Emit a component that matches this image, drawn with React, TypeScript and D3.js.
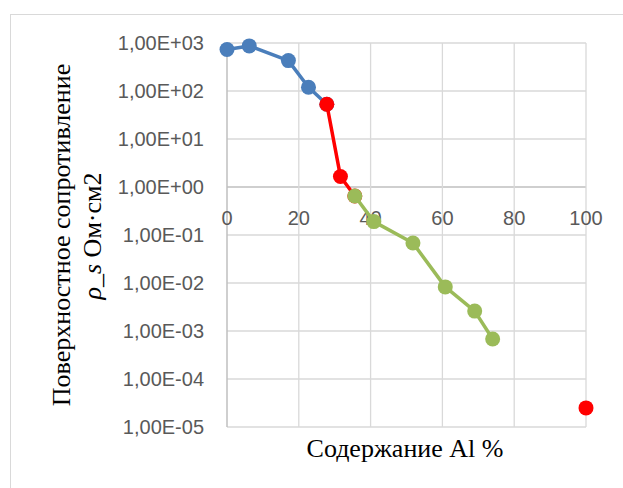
import React from 'react';
import * as d3 from 'd3';

// Al content (%) and surface resistance (Ohm·cm2)
const blueX = [0, 6.2, 17.1, 22.7, 27.8];
const blueY = [730, 870, 430, 120, 53];
const redX = [27.8, 31.6, 35.6];
const redY = [53, 1.66, 0.65];
const redSingleX = [100];
const redSingleY = [2.5e-5];
const greenX = [35.6, 40.9, 51.8, 60.8, 69, 74];
const greenY = [0.65, 0.19, 0.068, 0.0083, 0.0026, 0.00068];

const xTicks = [0, 20, 40, 60, 80, 100];
const yTicks = [1e3, 1e2, 1e1, 1e0, 1e-1, 1e-2, 1e-3, 1e-4, 1e-5];
const yTickLabels = ['1,00E+03', '1,00E+02', '1,00E+01', '1,00E+00', '1,00E-01', '1,00E-02', '1,00E-03', '1,00E-04', '1,00E-05'];

const W = 623;
const H = 488;

const App = () => {
  const x = d3.scaleLinear().domain([0, 100]).range([227, 586]);
  const y = d3.scaleLog().domain([1e-5, 1e3]).range([427, 43]);

  const line = d3.line<[number, number]>()
    .x(d => x(d[0]))
    .y(d => y(d[1]));

  const series = [
    { xs: blueX, ys: blueY, color: '#4a7ebb', line: true },
    { xs: redX, ys: redY, color: '#ff0000', line: true },
    { xs: redSingleX, ys: redSingleY, color: '#ff0000', line: false },
    { xs: greenX, ys: greenY, color: '#9bbb59', line: true },
  ];

  const tickFont = '"Liberation Sans", Arial, sans-serif';
  const titleFont = '"Liberation Serif", "Times New Roman", serif';

  return (
    <svg width={W} height={H} style={{ position: 'absolute', left: 0, top: 0 }}>
      <rect x={0} y={0} width={W} height={H} fill="#fff" />
      <rect x={10.5} y={14.5} width={W + 10} height={H + 10} fill="none" stroke="#d9d9d9" />

      {/* gridlines */}
      {yTicks.map(t => (
        <line key={'gy' + t} x1={x(0)} x2={x(100)} y1={y(t)} y2={y(t)}
          stroke={t === 1 ? '#bfbfbf' : '#d9d9d9'} strokeWidth={t === 1 ? 1.5 : 1.3} />
      ))}
      {xTicks.map(t => (
        <line key={'gx' + t} x1={x(t)} x2={x(t)} y1={y(1e3)} y2={y(1e-5)}
          stroke={t === 0 ? '#bfbfbf' : '#d9d9d9'} strokeWidth={t === 0 ? 1.5 : 1.3} />
      ))}

      {/* y tick labels */}
      {yTicks.map((t, i) => (
        <text key={'ly' + t} x={204} y={y(t)} dy="0.36em" textAnchor="end"
          fontFamily={tickFont} fontSize={20} fill="#595959">{yTickLabels[i]}</text>
      ))}
      {/* x tick labels at the axis crossing (1) */}
      {xTicks.map(t => (
        <text key={'lx' + t} x={x(t)} y={y(1) + 38} textAnchor="middle"
          fontFamily={tickFont} fontSize={20} fill="#595959">{t}</text>
      ))}

      {/* series */}
      {series.map((s, si) => {
        const pts = s.xs.map((v, i) => [v, s.ys[i]] as [number, number]);
        return (
          <g key={'s' + si}>
            {s.line && (
              <path d={line(pts) || ''} fill="none" stroke={s.color} strokeWidth={3.5} strokeLinejoin="round" />
            )}
            {pts.map((p, i) => (
              <circle key={i} cx={x(p[0])} cy={y(p[1])} r={7.5} fill={s.color} />
            ))}
          </g>
        );
      })}

      {/* axis titles */}
      <g transform={`translate(70, 235) rotate(-90)`}>
        <text textAnchor="middle" fontFamily={titleFont} fontSize={26} fill="#000">
          Поверхностное сопротивление
        </text>
      </g>
      <g transform={`translate(101, 236) rotate(-90)`}>
        <text textAnchor="middle" fontFamily={titleFont} fontSize={26} fill="#000">
          <tspan fontStyle="italic">ρ_s</tspan> Ом·см2
        </text>
      </g>
      <text x={405} y={457} textAnchor="middle" fontFamily={titleFont} fontSize={26} fill="#000">
        Содержание Al %
      </text>
    </svg>
  );
};

export default App;
